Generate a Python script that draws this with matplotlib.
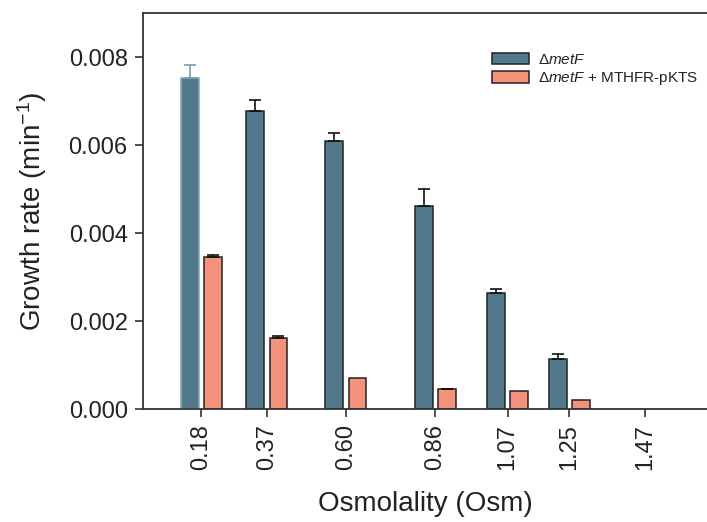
import matplotlib
matplotlib.use("Agg")
import matplotlib.pyplot as plt
import numpy as np

plt.rcParams['font.family'] = ['Liberation Sans', 'DejaVu Sans']
plt.rcParams['mathtext.fontset'] = 'custom'
plt.rcParams['mathtext.rm'] = 'Liberation Sans'
plt.rcParams['mathtext.it'] = 'Liberation Sans:italic'
plt.rcParams['text.color'] = '#222222'
plt.rcParams['axes.labelcolor'] = '#222222'
plt.rcParams['xtick.labelcolor'] = '#222222'
plt.rcParams['ytick.labelcolor'] = '#222222'

osmolality = [0.18, 0.37, 0.60, 0.86, 1.07, 1.25, 1.47]
tick_labels = ["0.18", "0.37", "0.60", "0.86", "1.07", "1.25", "1.47"]
metF = [0.00752, 0.00678, 0.00609, 0.00461, 0.00263, 0.00113, 0.0]
metF_err = [0.00030, 0.00024, 0.00019, 0.00040, 0.00010, 0.00011, 0.0]
mthfr = [0.00346, 0.00162, 0.00070, 0.00045, 0.00042, 0.00020, 0.0]
mthfr_err = [0.00003, 0.00003, 0.0, 0.00001, 0.0, 0.0, 0.0]

blue = '#52788C'
salmon = '#F4917A'

fig = plt.figure(figsize=(7.07, 5.22), dpi=100)
ax = fig.add_axes([143/707, 1-409/522, 1-143/707, (409-13)/522])

x = np.array(osmolality)
m1 = np.array(metF)
m2 = np.array(mthfr)
w = 0.052
off = 0.034

nz1 = m1 > 0
nz2 = m2 > 0
blue_edges = np.array(['#8AA6B6'] + ['#222222'] * 6)
ax.bar(x[nz1] - off, m1[nz1], width=w, color=blue, edgecolor=list(blue_edges[nz1]),
       linewidth=1.1, label=r'$\mathit{Δmet F}$', zorder=2)
ax.bar(x[nz2] + off, m2[nz2], width=w, color=salmon, edgecolor='#222222', linewidth=1.1,
       label=r'$\mathit{Δmet F}$ + MTHFR-pKTS', zorder=2)

ecols = ['#7D9BAD'] + ['#111111'] * 6
for i in range(len(x)):
    if metF[i] > 0:
        ax.errorbar(x[i] - off, metF[i], yerr=[[0], [metF_err[i]]], fmt='none',
                    ecolor=ecols[i], elinewidth=1.2, capsize=4.3, capthick=1.2, zorder=3)
    if mthfr[i] > 0 and mthfr_err[i] > 0:
        ax.errorbar(x[i] + off, mthfr[i], yerr=[[0], [mthfr_err[i]]], fmt='none',
                    ecolor='#111111', elinewidth=1.2, capsize=4.3, capthick=1.2, zorder=3)

ax.set_xlim(0.0102, 1.650)
ax.set_ylim(0, 0.009)
ax.set_xticks(x)
ax.set_xticklabels(tick_labels, rotation=90, fontsize=17)
ax.set_yticks([0, 0.002, 0.004, 0.006, 0.008])
ax.set_yticklabels(["0.000", "0.002", "0.004", "0.006", "0.008"], fontsize=17)
ax.tick_params(direction='out', length=6, width=1.2, color='#333333', pad=5)

for s in ['left', 'bottom', 'top']:
    ax.spines[s].set_color('#333333')
    ax.spines[s].set_linewidth(1.3)
ax.spines['right'].set_visible(False)

ax.set_xlabel('Osmolality (Osm)', fontsize=20, labelpad=15)
ax.set_ylabel(r'Growth rate (min$^{-1}$)', fontsize=20, labelpad=14)

leg = fig.legend(loc='upper left', bbox_to_anchor=(492/707, 1-53/522), frameon=False,
                 fontsize=11, handlelength=2.45, handleheight=0.75, handletextpad=0.55,
                 labelspacing=0.22, borderpad=0, borderaxespad=0)
for h in leg.legend_handles:
    h.set_edgecolor('#222222')

fig.savefig('out.png', dpi=100)
